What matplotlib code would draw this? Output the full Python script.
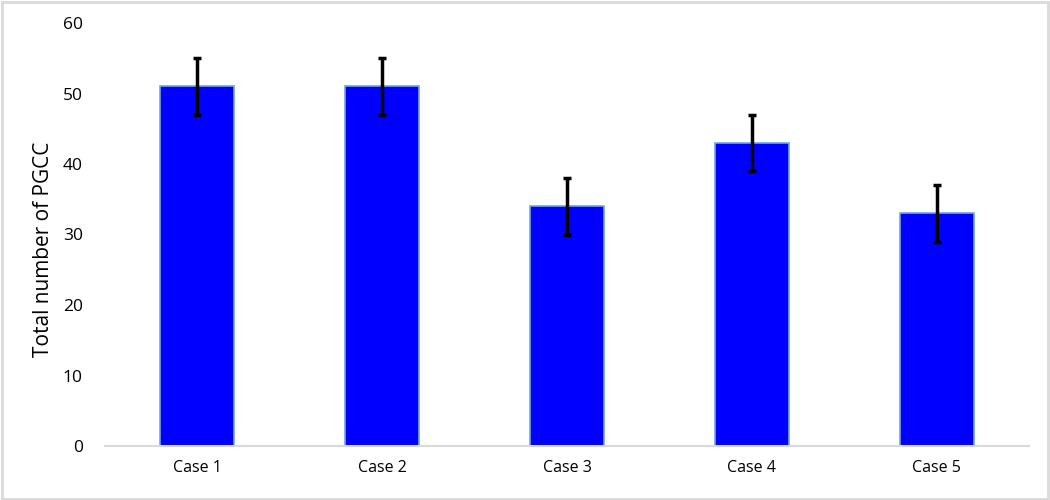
import numpy as np
import matplotlib.pyplot as plt

cases = ['Case 1', 'Case 2', 'Case 3', 'Case 4', 'Case 5']
totals = [51, 51, 34, 43, 33]
errors = [4, 4, 4, 4, 4]

plt.rcParams['font.family'] = ['Open Sans', 'DejaVu Sans']

fig = plt.figure(figsize=(10.5, 5), dpi=100)
ax = fig.add_axes([0.1, 0.108, 0.88, 0.846])

x = np.arange(len(cases))
ax.bar(x, totals, width=0.4, color='#0000FF', edgecolor='#6FA8DC', linewidth=1.2,
       yerr=errors, capsize=3, error_kw=dict(ecolor='black', elinewidth=2.5, capthick=2.5))

ax.set_xlim(-0.5, len(cases) - 0.5)
ax.set_ylim(0, 60)
ax.set_yticks(range(0, 61, 10))
ax.set_xticks(x)
ax.set_xticklabels(cases, fontsize=11.5)
ax.tick_params(axis='y', labelsize=12.5, length=0, pad=16)
ax.tick_params(axis='x', length=0, pad=10)
ax.set_ylabel('Total number of PGCC', fontsize=15)
ax.yaxis.set_label_coords(-0.055, 0.465)

for side in ['top', 'right', 'left']:
    ax.spines[side].set_visible(False)
ax.spines['bottom'].set_color('#D9D9D9')
ax.spines['bottom'].set_linewidth(1.5)

# light grey frame around the whole chart
fig.patches.append(plt.Rectangle((0.002, 0.003), 0.996, 0.994, transform=fig.transFigure,
                                 fill=False, edgecolor='#D9D9D9', linewidth=2))

fig.savefig('out.png', dpi=100)
